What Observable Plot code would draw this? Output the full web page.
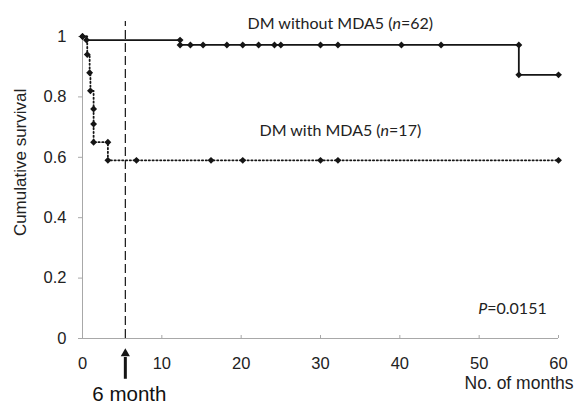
<!DOCTYPE html>
<html>
<head>
<meta charset="utf-8">
<script src="https://cdn.jsdelivr.net/npm/d3@7"></script>
<script src="https://cdn.jsdelivr.net/npm/@observablehq/plot@0.6"></script>
<style>
  html, body { margin: 0; padding: 0; background: #fff; }
  svg { overflow: visible; }
</style>
</head>
<body>
<div id="chart"></div>
<script>
// ---- Data ----
const withoutLabel = "DM without MDA5 (n=62)";
const withoutMonths   = [0, 0.5, 12.3, 12.3, 13.6, 15.2, 18.2, 20.2, 22.2, 24.2, 25, 30, 32.2, 40.2, 45.2, 55, 55, 60];
const withoutSurvival = [1.0, 0.988, 0.988, 0.972, 0.972, 0.972, 0.972, 0.972, 0.972, 0.972, 0.972, 0.972, 0.972, 0.972, 0.972, 0.972, 0.873, 0.873];

const withLabel = "DM with MDA5 (n=17)";
const withMonths   = [0, 0.6, 0.9, 1.0, 1.4, 1.4, 1.4, 3.2, 3.2, 6.8, 16.2, 20.2, 30, 32.2, 60];
const withSurvival = [1.0, 0.94, 0.88, 0.82, 0.76, 0.71, 0.65, 0.65, 0.59, 0.59, 0.59, 0.59, 0.59, 0.59, 0.59];

const xTicks = [0, 10, 20, 30, 40, 50, 60];
const xTickLabels = ["0", "10", "20", "30", "40", "50", "60"];
const yTicks = [0, 0.2, 0.4, 0.6, 0.8, 1];
const yTickLabels = ["0", "0.2", "0.4", "0.6", "0.8", "1"];

const sixMonthLine = 5.4;
const pValueText = "P=0.0151";
const yTitle = "Cumulative survival";
const xTitle = "No. of months";
const markerText = "6 month";

// ---- Build tables ----
const without = withoutMonths.map((m, i) => ({month: m, surv: withoutSurvival[i]}));
const withM = withMonths.map((m, i) => ({month: m, surv: withSurvival[i]}));

const axisGray = "#a8a8a8";
const ink = "#151515";
const labelFont = "Lato, 'Open Sans', sans-serif";

const chart = Plot.plot({
  width: 581,
  height: 404,
  marginLeft: 82,
  marginRight: 23,
  marginTop: 36,
  marginBottom: 66,
  x: {domain: [0, 60]},
  y: {domain: [0, 1]},
  style: {fontFamily: "'Liberation Sans', Arial, sans-serif", fontSize: "16px", color: "#222", background: "#fff"},
  marks: [
    Plot.ruleY([0], {stroke: axisGray, strokeWidth: 1}),
    Plot.ruleX([0], {stroke: axisGray, strokeWidth: 1}),
    Plot.axisY({ticks: yTicks, tickFormat: d => yTickLabels[yTicks.indexOf(d)], tickSize: 4, tickPadding: 12,
      stroke: axisGray, fill: "#222", label: null, fontSize: 16.5}),
    Plot.axisX({ticks: xTicks, tickFormat: d => xTickLabels[xTicks.indexOf(d)], tickSize: 0, tickPadding: 19,
      fill: "#222", label: null, fontSize: 16.5}),
    Plot.ruleX(xTicks, {x: d => d, stroke: axisGray, insetTop: 299}),
    // 6-month reference line
    Plot.ruleX([sixMonthLine], {x: d => d, y1: 0, y2: 1.05, stroke: ink, strokeWidth: 1.2, strokeDasharray: "9,4"}),
    // survival curves
    Plot.line(without, {x: "month", y: "surv", curve: "step-after", stroke: ink, strokeWidth: 1.8}),
    Plot.line(withM, {x: "month", y: "surv", curve: "step-after", stroke: ink, strokeWidth: 1.8,
      strokeDasharray: "1.3,2.5"}),
    Plot.dot(without, {x: "month", y: "surv", symbol: "diamond2", r: 3.1, fill: ink}),
    Plot.dot(withM, {x: "month", y: "surv", symbol: "diamond2", r: 3.1, fill: ink}),
    // annotations
    Plot.text([withoutLabel], {x: 32.5, y: 1.043, text: d => d, fontFamily: labelFont, fontSize: 16, fill: "#222"}),
    Plot.text([withLabel], {x: 32.5, y: 0.689, text: d => d, fontFamily: labelFont, fontSize: 16, fill: "#222"}),
    Plot.text([pValueText], {x: 54.2, y: 0.099, text: d => d, fontFamily: labelFont, fontSize: 16, fill: "#222"}),
    Plot.text([yTitle], {text: d => d, x: -7.8, y: 0.583, rotate: -90, fontSize: 17, fill: "#222"}),
    Plot.text([xTitle], {text: d => d, frameAnchor: "bottom-right", textAnchor: "end", dx: 15, dy: 50, fontSize: 17.5, fill: "#222"}),
    Plot.text([markerText], {x: sixMonthLine, text: d => d, frameAnchor: "bottom", dx: 4, dy: 62, fontSize: 20.5, fill: "#111"}),
    // arrow below the axis
    Plot.ruleX([sixMonthLine], {x: d => d, y1: -0.063, y2: -0.135, stroke: ink, strokeWidth: 3}),
    Plot.dot([sixMonthLine], {x: d => d, y: -0.05, symbol: "triangle", r: 3.4, fill: ink})
  ]
});

// italicise the "n" and "P" symbols in annotations (still real text)
d3.select(chart).selectAll("text").each(function() {
  const t = this.textContent;
  const m = t.match(/^(.*\()(n)(=.*)$/) || t.match(/^()(P)(=.*)$/);
  if (!m) return;
  const sel = d3.select(this);
  sel.text(null);
  sel.append("tspan").text(m[1]);
  sel.append("tspan").attr("font-style", "italic").text(m[2]);
  sel.append("tspan").text(m[3]);
});

document.getElementById("chart").appendChild(chart);
</script>
</body>
</html>
